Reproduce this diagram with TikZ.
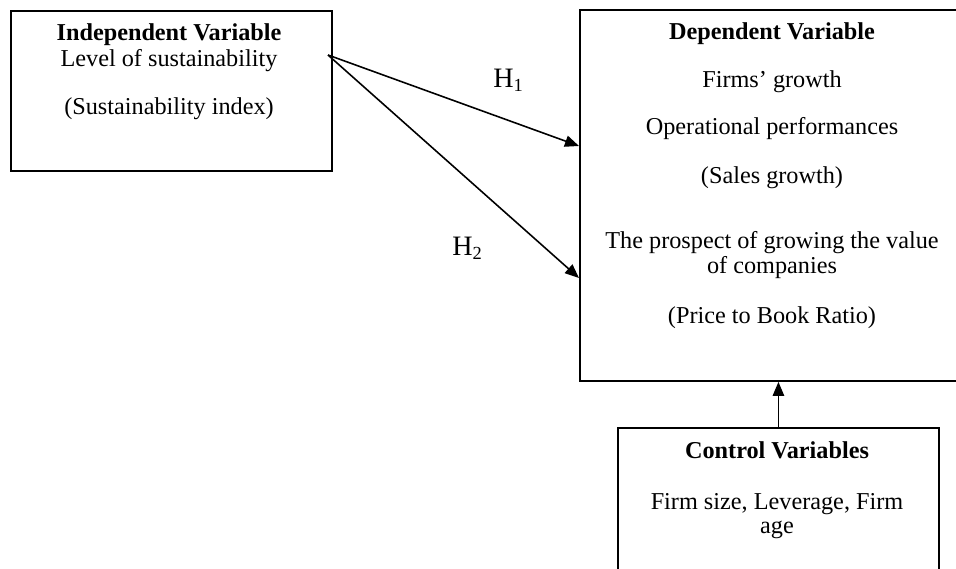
\documentclass[tikz,border=0pt]{standalone}
\usepackage{fontspec}
\setmainfont{Liberation Serif}
\usetikzlibrary{arrows.meta}

\newcommand{\hsub}[1]{\raisebox{-2.5pt}{\fontsize{10.5}{11}\selectfont #1}}

\tikzset{
    box/.style={draw, line width=1.1pt, inner sep=0pt, anchor=north west},
    txt/.style={font=\fontsize{13.8}{15}\selectfont, inner sep=0pt, anchor=base},
    hlabel/.style={font=\fontsize{16}{17}\selectfont, inner sep=0pt, anchor=base west},
    arr/.style={-{Triangle[length=8pt,width=6.5pt]}, line width=0.9pt},
}

\begin{document}
\begin{tikzpicture}[x=0.02cm, y=-0.02cm]
    \useasboundingbox (0,0) rectangle (956,568);
    \clip (0,0) rectangle (956,568);

    \node[box, minimum width=6.42cm, minimum height=3.2cm] (indep) at (10,10) {};
    \node[txt] (indep-title) at (169,40) {\textbf{Independent Variable}};
    \node[txt] (indep-l1) at (169,66) {Level of sustainability};
    \node[txt] (indep-l2) at (169,114) {(Sustainability index)};

    \node[box, minimum width=7.72cm, minimum height=7.42cm] (dep) at (579,9) {};
    \node[txt] (dep-title) at (772,39) {\textbf{Dependent Variable}};
    \node[txt] (dep-l1) at (772,87) {Firms’ growth};
    \node[txt] (dep-l2) at (772,134) {Operational performances};
    \node[txt] (dep-l3) at (772,183) {(Sales growth)};
    \node[txt] (dep-l4) at (772,248) {The prospect of growing the value};
    \node[txt] (dep-l5) at (772,273) {of companies};
    \node[txt] (dep-l6) at (772,323) {(Price to Book Ratio)};

    \node[box, minimum width=6.42cm, minimum height=3.2cm] (ctrl) at (617,427) {};
    \node[txt] (ctrl-title) at (777,458) {\textbf{Control Variables}};
    \node[txt] (ctrl-l1) at (777,509) {Firm size, Leverage, Firm};
    \node[txt] (ctrl-l2) at (777,533) {age};

    \coordinate (h-start) at (328,55);
    \coordinate (h1-end) at (579,146);
    \coordinate (h2-end) at (579,278);
    \draw[arr] (h-start) -- (h1-end);
    \draw[arr] (h-start) -- (h2-end);
    \node[hlabel] (h1) at (493,87) {H\hsub{1}};
    \node[hlabel] (h2) at (452,255) {H\hsub{2}};

    \draw[arr] (ctrl.north) -- (ctrl.north |- dep.south);
\end{tikzpicture}
\end{document}
